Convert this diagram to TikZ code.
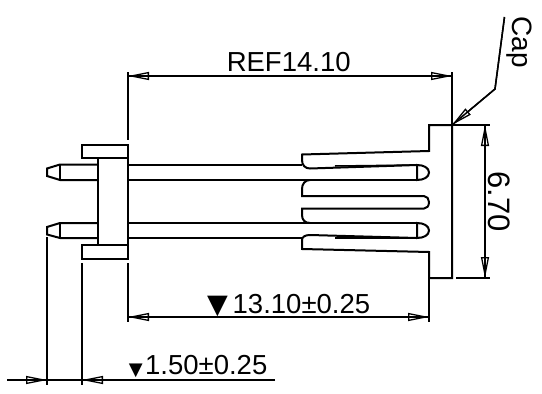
\documentclass[tikz,border=0pt]{standalone}
\usepackage{fontspec}
\setmainfont{Liberation Sans}
\newfontfamily\symfont{DejaVu Sans}
\usetikzlibrary{arrows.meta}
\tikzset{
  body/.style={line width=2pt,line join=miter,black},
  thin part/.style={line width=1.5pt,black},
  extline/.style={line width=1.5pt,black},
  dimline/.style={line width=1.5pt,black,{Triangle[open,length=21pt,width=8pt,line width=1.3pt]}-{Triangle[open,length=21pt,width=8pt,line width=1.3pt]}},
  onetip/.style={line width=1.5pt,black,-{Triangle[open,length=21pt,width=8pt,line width=1.3pt]}},
  lbl/.style={inner sep=0pt,font=\fontsize{27.5}{27.5}\selectfont}
}
\begin{document}
\begin{tikzpicture}[x=1pt,y=-1pt]
\useasboundingbox (0,0) rectangle (542,394);
% flanges and body
\draw[body] (82,144.5) rectangle (128,158);
\draw[body] (82,245) rectangle (128,259);
\draw[body] (98,158) -- (98,245);
\draw[body] (128,158) -- (128,245);
% pin tips left
\draw[body] (98,164.5) -- (60,164.5) -- (47,168.5) -- (47,176) -- (60,180) -- (98,180);
\draw[body] (60,164.5) -- (60,180);
\draw[body] (98,223) -- (60,223) -- (47,227) -- (47,234.5) -- (60,238) -- (98,238);
\draw[body] (60,223) -- (60,238);
% pins right
\draw[thin part] (128,165) -- (302,165);
\draw[thin part] (335,166) -- (417,165);
\draw[body] (128,180) -- (417,180);
\draw[thin part] (128,223) -- (417,223);
\draw[body] (128,238) -- (302,238);
\draw[body] (335,238) -- (417,238);
\draw[body] (417,165) .. controls (424,165) and (429,168) .. (429,172.5) .. controls (429,177) and (424,180) .. (417,180) -- cycle;
\draw[body] (417,223) .. controls (424,223) and (429,226) .. (429,230.5) .. controls (429,235) and (424,238) .. (417,238) -- cycle;
% cap
\draw[body] (452,125) -- (429,125) -- (429,151) -- (302,154.5) -- (302,160) .. controls (302,165) and (305,168.5) .. (310,168.5) -- (417,165);
\draw[body] (310,180) .. controls (305,180) and (302,184) .. (302,189) -- (302,196) -- (424,196) .. controls (427,196) and (429,199) .. (429,202) .. controls (429,206) and (427,208.5) .. (424,208.5) -- (302,208.5) -- (302,215) .. controls (302,220) and (305,223) .. (310,223);
\draw[body] (310,235) -- (417,238);
\draw[body] (310,235) .. controls (305,235) and (302,237) .. (302,240) -- (302,249) -- (429,252) -- (429,278) -- (452,278) -- (452,125);
% extension lines
\draw[extline] (128,72) -- (128,140);
\draw[extline] (128,263) -- (128,322);
\draw[extline] (452,72) -- (452,125);
\draw[extline] (429,278) -- (429,322);
\draw[extline] (452,125) -- (490,125);
\draw[extline] (456,278) -- (490,278);
\draw[extline] (47,237) -- (47,385);
\draw[extline] (82,263) -- (82,385);
% dimensions
\coordinate (ra) at (128,76);
\coordinate (rb) at (452,76);
\draw[extline] (ra) -- (rb);
\draw[dimline] (ra) -- (rb);
\coordinate (ha) at (485,125);
\coordinate (hb) at (485,278);
\draw[extline] (ha) -- (hb);
\draw[dimline] (ha) -- (hb);
\coordinate (ba) at (128,317);
\coordinate (bb) at (429,317);
\draw[extline] (ba) -- (bb);
\draw[dimline] (ba) -- (bb);
\coordinate (sa) at (7,380);
\coordinate (sb) at (47,380);
\coordinate (sc) at (275,380);
\coordinate (sd) at (82,380);
\draw[extline] (sa) -- (sc);
\draw[onetip] (sa) -- (sb);
\draw[onetip] (sc) -- (sd);
% leader
\coordinate (la) at (504.5,17);
\coordinate (lb) at (495,89);
\coordinate (lc) at (452,125);
\draw[extline] (la) -- (lb) -- (lc);
\draw[onetip] (la) -- (lb) -- (lc);
% labels
\node[lbl,anchor=base] (t1) at (288.7,71) {REF14.10};
\node[lbl,anchor=base,rotate=-90,font=\fontsize{31}{31}\selectfont] (t2) at (488,201.5) {6.70};
\node[lbl,anchor=base west] (t3) at (232.5,313) {13.10±0.25};
\node[lbl,anchor=base west] (t4) at (145,374) {1.50±0.25};
\node[inner sep=0pt,anchor=base east] (t5) at (228,313) {\symfont\fontsize{27}{27}\selectfont ▼};
\node[inner sep=0pt,anchor=base east] (t6) at (143,375) {\symfont\fontsize{18}{18}\selectfont ▼};
\node[lbl,anchor=base,rotate=-90,font=\fontsize{28}{28}\selectfont] (t7) at (512,42) {Cap};
\end{tikzpicture}
\end{document}
